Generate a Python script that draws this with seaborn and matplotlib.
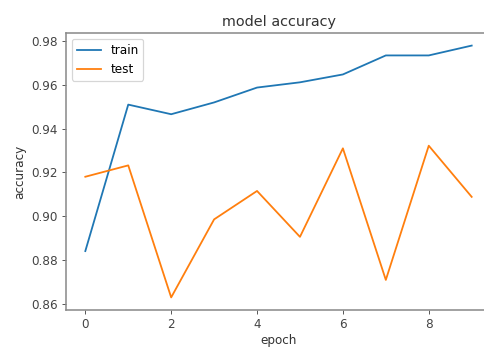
import pandas as pd
import matplotlib
matplotlib.use('Agg')
import matplotlib.pyplot as plt
import seaborn as sns

# Valores
epochs = [0, 1, 2, 3, 4, 5, 6, 7, 8, 9]
train_acc = [0.884, 0.951, 0.9466, 0.952, 0.9588, 0.9612, 0.9648, 0.9735, 0.9735, 0.978]
test_acc = [0.918, 0.9232, 0.8628, 0.8985, 0.9115, 0.8905, 0.931, 0.8708, 0.9322, 0.9088]

df = pd.DataFrame({
    'epoch': epochs * 2,
    'accuracy': train_acc + test_acc,
    'serie': ['train'] * len(epochs) + ['test'] * len(epochs),
})

DPI = 86.4
fig = plt.figure(figsize=(484 / DPI, 347 / DPI), dpi=DPI)
ax = fig.add_axes([66 / 484, 37 / 347, 425 / 484, 277 / 347])

sns.lineplot(data=df, x='epoch', y='accuracy', hue='serie',
             palette=['#1f77b4', '#ff7f0e'], linewidth=1.5, ax=ax)

for s in ax.spines.values():
    s.set_color('#8a8a8a')
    s.set_linewidth(1.3)
ax.tick_params(colors='#555555', labelcolor='#444444', labelsize=10)
ax.set_xticks([0, 2, 4, 6, 8])
ax.set_yticks([0.86, 0.88, 0.90, 0.92, 0.94, 0.96, 0.98])
ax.set_yticklabels(['0.86', '0.88', '0.90', '0.92', '0.94', '0.96', '0.98'])

ax.set_title('model accuracy', fontsize=12, color='#333333')
ax.set_xlabel('epoch', color='#333333', labelpad=2)
ax.set_ylabel('accuracy', color='#333333')
ax.legend(title=None, loc='upper left')

fig.savefig('out.png', dpi=DPI)
